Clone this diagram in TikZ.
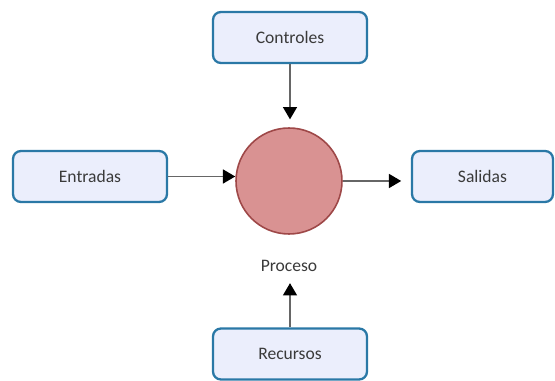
\documentclass[tikz,border=0pt]{standalone}
\usepackage{fontspec}
\setmainfont{Carlito}
\usepackage{xcolor}
\usetikzlibrary{arrows.meta}
\definecolor{boxfill}{HTML}{EBEEFC}
\definecolor{boxline}{HTML}{2A78A6}
\definecolor{procfill}{HTML}{D99292}
\definecolor{procline}{HTML}{9E4848}
\definecolor{txt}{HTML}{3A3A3A}
\tikzstyle{box}=[draw=boxline,line width=1.3pt,fill=boxfill,rounded corners=4.5pt,minimum width=3.08cm,minimum height=1.02cm,text=txt,font=\fontsize{10}{12}\selectfont]
\tikzstyle{proc}=[circle,draw=procline,line width=0.9pt,fill=procfill,minimum size=2.12cm,inner sep=0pt]
\tikzstyle{flowhead}=[>/.tip={Triangle[length=7pt,width=8pt,color=black]}]
\tikzstyle{flow}=[draw=black!60,line width=0.8pt,flowhead,->]
\begin{document}
\begin{tikzpicture}[x=0.02cm,y=-0.02cm]
				\useasboundingbox (0,0) rectangle (555,381);
				\node[box] (ctrl) at (290,37.5) {Controles};
				\node[box] (entr) at (90,176.5) {Entradas};
				\node[box,minimum width=2.82cm] (sal) at (482.5,176.5) {Salidas};
				\node[box] (recu) at (290,354) {Recursos};
				\node[proc] (circ) at (289,181) {};
				\node[text=txt,font=\fontsize{10}{12}\selectfont] (lbl) at (289,266) {Proceso};
				\draw[flow,shorten >=4.5pt] (ctrl.south) -- (ctrl.south |- circ.north);
				\draw[flow] (entr.east) -- (entr.east -| circ.west);
				\draw[flow,shorten >=5.5pt] (circ.east) -- (circ.east -| sal.west);
				\draw[flow,shorten >=3pt] (recu.north) -- (recu.north |- lbl.south);
				\end{tikzpicture}
\end{document}
